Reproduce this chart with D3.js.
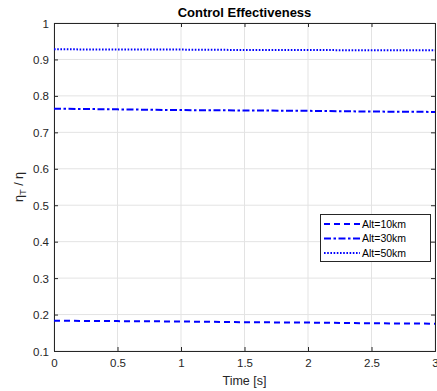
<!DOCTYPE html>
<html><head><meta charset="utf-8">
<script src="https://cdn.jsdelivr.net/npm/d3@7"></script>
<style>body{margin:0;background:#fff}svg{display:block}text{font-family:"Liberation Sans",Arial,sans-serif}</style>
</head><body><svg id="c" width="437" height="391"></svg>
<script>
const time = [0, 0.5, 1, 1.5, 2, 2.5, 3];
const alt10 = [0.183, 0.182, 0.181, 0.179, 0.178, 0.176, 0.175];
const alt30 = [0.765, 0.763, 0.761, 0.760, 0.759, 0.757, 0.756];
const alt50 = [0.928, 0.927, 0.927, 0.926, 0.926, 0.925, 0.925];
const seriesNames = ["Alt=10km", "Alt=30km", "Alt=50km"];
const xTicks = [0, 0.5, 1, 1.5, 2, 2.5, 3];
const yTicks = [0.1, 0.2, 0.3, 0.4, 0.5, 0.6, 0.7, 0.8, 0.9, 1];

const svg = d3.select("#c");
const L = 54, R = 435, T = 23, B = 351;
const x = d3.scaleLinear().domain([0, 3]).range([L, R]);
const y = d3.scaleLinear().domain([0.1, 1]).range([B, T]);
const axisCol = "#262626";

// grid
svg.append("g").selectAll("line").data(xTicks).join("line")
  .attr("x1", d => x(d)).attr("x2", d => x(d)).attr("y1", T).attr("y2", B)
  .attr("stroke", "#e3e3e3").attr("stroke-width", 1);
svg.append("g").selectAll("line").data(yTicks).join("line")
  .attr("y1", d => y(d)).attr("y2", d => y(d)).attr("x1", L).attr("x2", R)
  .attr("stroke", "#e3e3e3").attr("stroke-width", 1);

// axes
const fmt = d => d3.format("")(d);
const xb = svg.append("g").attr("transform", `translate(0,${B})`)
  .call(d3.axisBottom(x).tickValues(xTicks).tickSize(-4).tickPadding(8).tickFormat(fmt));
const xt = svg.append("g").attr("transform", `translate(0,${T})`)
  .call(d3.axisTop(x).tickValues(xTicks).tickSize(-4).tickFormat(""));
const yl = svg.append("g").attr("transform", `translate(${L},0)`)
  .call(d3.axisLeft(y).tickValues(yTicks).tickSize(-4).tickPadding(5).tickFormat(fmt));
const yr = svg.append("g").attr("transform", `translate(${R},0)`)
  .call(d3.axisRight(y).tickValues(yTicks).tickSize(-4).tickFormat(""));
[xb, xt, yl, yr].forEach(g => {
  g.select(".domain").attr("stroke", axisCol).attr("stroke-width", 1);
  g.selectAll(".tick line").attr("stroke", axisCol);
  g.selectAll("text").attr("fill", axisCol).style("font-size", "11.5px");
});
yl.selectAll("text").attr("dy", "0.35em");

// lines
const line = d3.line().x((d, i) => x(time[i])).y(d => y(d));
const series = [alt10, alt30, alt50];
const dashes = ["6,4", "7,2.5,2.5,2.5", "1.6,1.6"];
series.forEach((s, i) => {
  svg.append("path").datum(s).attr("d", line).attr("fill", "none")
    .attr("stroke", "#0000ff").attr("stroke-width", 2)
    .attr("stroke-dasharray", dashes[i]);
});

// title
svg.append("text").attr("x", (L + R) / 2).attr("y", 17).attr("text-anchor", "middle")
  .style("font-size", "13px").style("font-weight", "bold").attr("fill", "#000")
  .text("Control Effectiveness");
// x label
svg.append("text").attr("x", (L + R) / 2).attr("y", 385).attr("text-anchor", "middle")
  .style("font-size", "12.5px").attr("fill", axisCol).text("Time [s]");
// y label
const yLab = svg.append("text").attr("transform", `translate(23,${(T + B) / 2}) rotate(-90)`)
  .attr("text-anchor", "middle").style("font-size", "12.5px").attr("fill", axisCol);
yLab.append("tspan").text("η");
yLab.append("tspan").attr("dy", 3).style("font-size", "9.5px").text("T");
yLab.append("tspan").attr("dy", -3).text(" / η");

// legend
const lg = svg.append("g");
lg.append("rect").attr("x", 320.5).attr("y", 214.5).attr("width", 110).attr("height", 47)
  .attr("fill", "#fff").attr("stroke", axisCol).attr("stroke-width", 1);
seriesNames.forEach((n, i) => {
  const yy = 224 + i * 14.5;
  lg.append("line").attr("x1", 324).attr("x2", 360).attr("y1", yy).attr("y2", yy)
    .attr("stroke", "#0000ff").attr("stroke-width", 2).attr("stroke-dasharray", dashes[i]);
  lg.append("text").attr("x", 362).attr("y", yy).attr("dy", "0.35em")
    .style("font-size", "10.5px").attr("fill", "#000").text(n);
});
</script></body></html>
